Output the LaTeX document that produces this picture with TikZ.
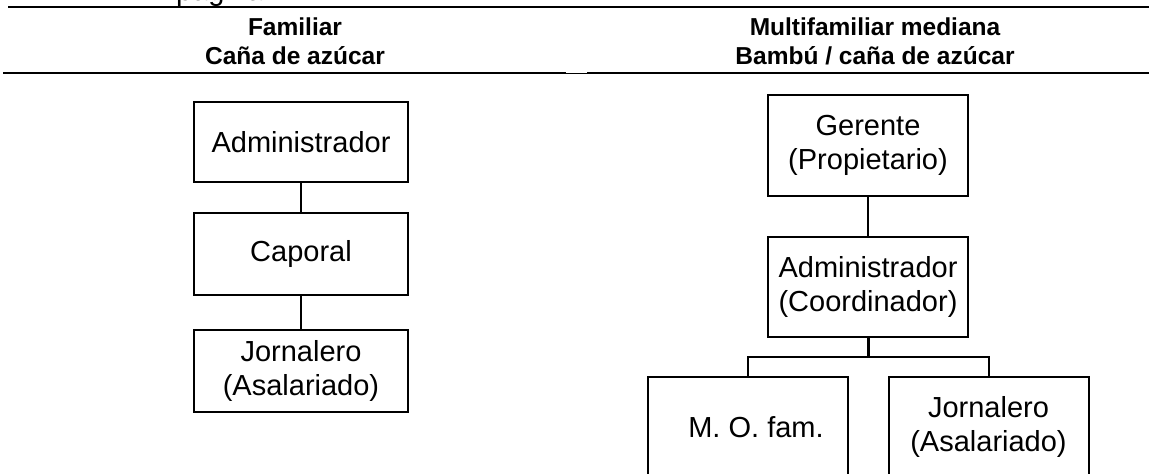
\documentclass[tikz,border=0pt]{standalone}
\usepackage{fontspec}
\setmainfont{Liberation Sans}
\begin{document}
\begin{tikzpicture}[x=1pt,y=-1pt,
  box/.style={draw, line width=2pt, inner sep=0pt, align=center, font=\fontsize{29}{34}\selectfont},
  hdr/.style={anchor=base, inner sep=0pt, font=\fontsize{24.5}{28}\selectfont\bfseries},
  conn/.style={line width=2pt},
  rule/.style={line width=2pt}]
\useasboundingbox (0,0) rectangle (1149,474);
\clip (0,0) rectangle (1149,474);
% cut-off text above the picture
\node[anchor=base west, inner sep=0pt, font=\fontsize{29}{34}\selectfont] (cut) at (176,0) {página};
% header rules
\coordinate (t1) at (8,7);
\coordinate (t2) at (1149,7);
\coordinate (b1) at (3,73);
\coordinate (b2) at (566,73);
\coordinate (b3) at (587,73);
\coordinate (b4) at (1149,73);
\draw[rule] (t1) -- (t2);
\draw[rule] (b1) -- (b2);
\draw[line width=0.7pt] (b2) -- (b3);
\draw[rule] (b3) -- (b4);
% headers
\node[hdr] (h1a) at (295,35) {Familiar};
\node[hdr] (h1b) at (295,64) {Caña de azúcar};
\node[hdr] (h2a) at (875,35) {Multifamiliar mediana};
\node[hdr] (h2b) at (875,64) {Bambú / caña de azúcar};
% left column
\node[box, minimum width=214pt, minimum height=80pt] (adm1) at (301,142) {Administrador};
\node[box, minimum width=214pt, minimum height=82pt] (cap) at (301,254) {Caporal};
\node[box, minimum width=214pt, minimum height=82pt] (jor1) at (301,371) {Jornalero\\(Asalariado)};
\draw[conn] (adm1.south) -- (cap.north);
\draw[conn] (cap.south) -- (jor1.north);
% right column
\node[box, minimum width=200pt, minimum height=101pt] (ger) at (868,145.5) {Gerente\\(Propietario)};
\node[box, minimum width=200pt, minimum height=100pt] (adm2) at (868,287) {Administrador\\(Coordinador)};
\node[box, minimum width=200pt, minimum height=100pt] (mo) at (748,427) {\hspace*{16pt}M. O. fam.};
\node[box, minimum width=200pt, minimum height=100pt] (jor2) at (988.5,427) {Jornalero\\(Asalariado)};
\coordinate (bus) at (868,357);
\draw[conn] (ger.south) -- (adm2.north);
\draw[line width=3pt] (adm2.south) -- (bus);
\draw[conn] (mo.north) |- (bus) -| (jor2.north);
\end{tikzpicture}
\end{document}
